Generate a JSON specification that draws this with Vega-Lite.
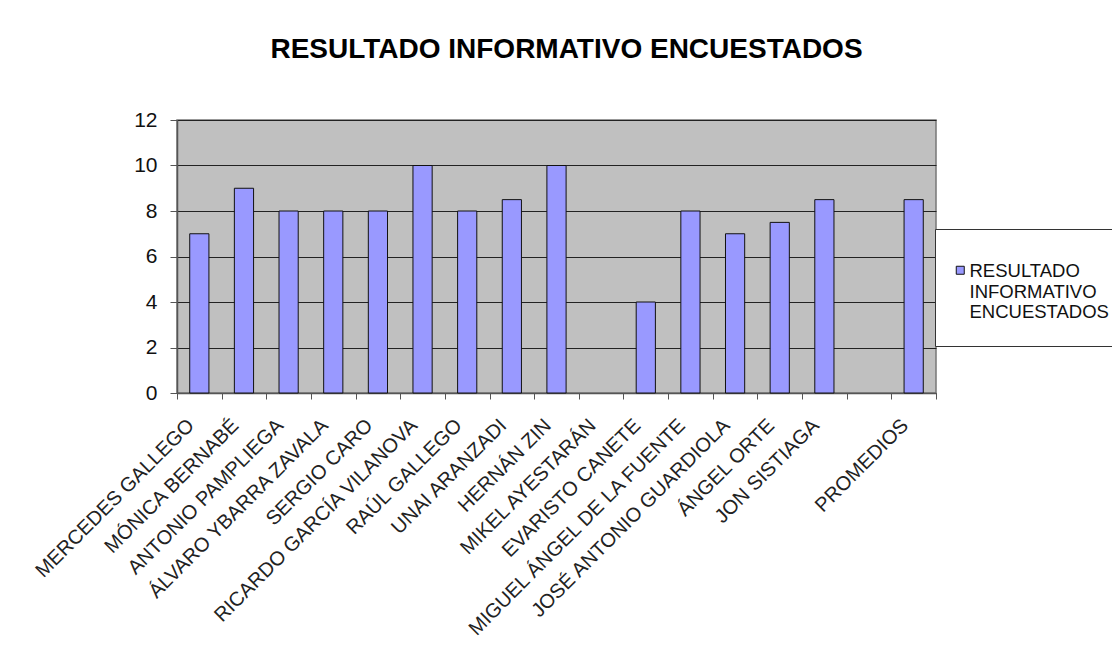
{
  "$schema": "https://vega.github.io/schema/vega-lite/v6.json",
  "width": 759,
  "height": 273,
  "autosize": {"type": "none"},
  "padding": {"left": 177, "top": 120, "right": 176, "bottom": 267},
  "background": "white",
  "title": {
    "text": "RESULTADO INFORMATIVO ENCUESTADOS",
    "font": "Liberation Sans",
    "fontSize": 28,
    "fontWeight": "bold",
    "color": "black",
    "anchor": "middle",
    "frame": "group",
    "baseline": "alphabetic",
    "offset": 23,
    "dx": 10
  },
  "data": {
    "values": [
      {"nombre": "MERCEDES GALLEGO", "valor": 7},
      {"nombre": "MÓNICA BERNABÉ", "valor": 9},
      {"nombre": "ANTONIO PAMPLIEGA", "valor": 8},
      {"nombre": "ÁLVARO YBARRA ZAVALA", "valor": 8},
      {"nombre": "SERGIO CARO", "valor": 8},
      {"nombre": "RICARDO GARCÍA VILANOVA", "valor": 10},
      {"nombre": "RAÚL GALLEGO", "valor": 8},
      {"nombre": "UNAI ARANZADI", "valor": 8.5},
      {"nombre": "HERNÁN ZIN", "valor": 10},
      {"nombre": "MIKEL AYESTARÁN", "valor": null},
      {"nombre": "EVARISTO CANETE", "valor": 4},
      {"nombre": "MIGUEL ÁNGEL DE LA FUENTE", "valor": 8},
      {"nombre": "JOSÉ ANTONIO GUARDIOLA", "valor": 7},
      {"nombre": "ÁNGEL ORTE", "valor": 7.5},
      {"nombre": "JON SISTIAGA", "valor": 8.5},
      {"nombre": " ", "valor": null},
      {"nombre": "PROMEDIOS", "valor": 8.5}
    ]
  },
  "mark": {"type": "bar", "width": {"band": 0.43}, "stroke": "#111111", "strokeWidth": 1},
  "encoding": {
    "x": {
      "field": "nombre",
      "type": "nominal",
      "sort": null,
      "scale": {
        "domain": ["MERCEDES GALLEGO", "MÓNICA BERNABÉ", "ANTONIO PAMPLIEGA", "ÁLVARO YBARRA ZAVALA", "SERGIO CARO", "RICARDO GARCÍA VILANOVA", "RAÚL GALLEGO", "UNAI ARANZADI", "HERNÁN ZIN", "MIKEL AYESTARÁN", "EVARISTO CANETE", "MIGUEL ÁNGEL DE LA FUENTE", "JOSÉ ANTONIO GUARDIOLA", "ÁNGEL ORTE", "JON SISTIAGA", " ", "PROMEDIOS"],
        "paddingInner": 0,
        "paddingOuter": 0
      },
      "axis": {
        "title": null,
        "labelAngle": -45,
        "labelAlign": "right",
        "labelBaseline": "top",
        "labelFont": "Liberation Sans",
        "labelFontSize": 20,
        "labelColor": "#222222",
        "labelPadding": 16,
        "labelOffset": -16,
        "labelLimit": 400,
        "labelOverlap": false,
        "tickBand": "extent",
        "tickSize": 6,
        "tickColor": "#555555",
        "domainColor": "#555555",
        "domainWidth": 1.5,
        "grid": false
      }
    },
    "y": {
      "field": "valor",
      "type": "quantitative",
      "scale": {"domain": [0, 12], "nice": false},
      "axis": {
        "title": null,
        "values": [0, 2, 4, 6, 8, 10, 12],
        "labelFont": "Liberation Sans",
        "labelFontSize": 21,
        "labelColor": "#111111",
        "labelPadding": 13,
        "tickSize": 7,
        "tickColor": "#555555",
        "domainColor": "#555555",
        "domainWidth": 1.5,
        "grid": true,
        "gridColor": "#222222",
        "gridWidth": 1.2
      }
    },
    "color": {
      "datum": "RESULTADO INFORMATIVO ENCUESTADOS",
      "type": "nominal",
      "scale": {"range": ["#9999FF"]},
      "legend": {
        "title": null,
        "orient": "none",
        "legendX": 758,
        "legendY": 109,
        "padding": 24,
        "fillColor": "white",
        "strokeColor": "#333333",
        "symbolType": "M-1,1H1V3H-1Z",
        "symbolSize": 64,
        "symbolOffset": -8,
        "symbolStrokeColor": "#111111",
        "symbolStrokeWidth": 1,
        "labelFont": "Liberation Sans",
        "labelFontSize": 18.5,
        "labelColor": "#111111",
        "labelBaseline": "top",
        "labelOffset": 0,
        "labelLimit": 300,
        "labelExpr": "['RESULTADO', 'INFORMATIVO', 'ENCUESTADOS']"
      }
    }
  },
  "config": {
    "view": {"fill": "#C0C0C0", "stroke": "#777777", "strokeWidth": 1.5}
  }
}
